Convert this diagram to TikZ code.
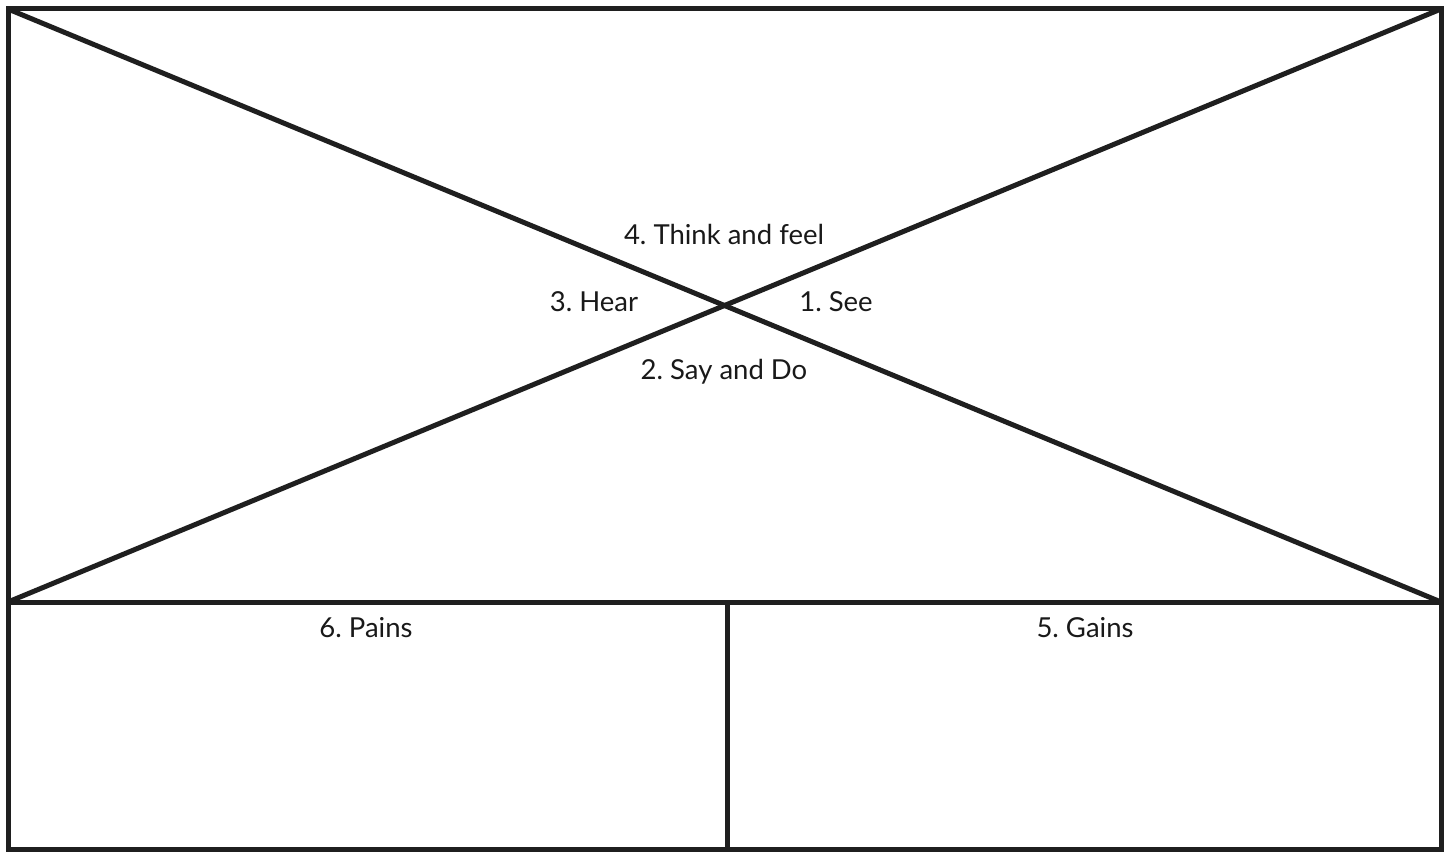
\documentclass[tikz,border=0pt]{standalone}
\usepackage{fontspec}
\setmainfont{Lato}
\usepackage{tikz}
\usetikzlibrary{positioning}
\frenchspacing

\begin{document}
\begin{tikzpicture}[
    x=1pt,y=-1pt,
    frame/.style={line width=5pt,draw=black!88},
    lbl/.style={font=\fontsize{27.5}{32}\selectfont,text=black!90,inner sep=0pt}
]
\useasboundingbox (0,0) rectangle (1450,851);
% corners of the map
\coordinate (tl) at (8,9);
\coordinate (tr) at (1441,9);
\coordinate (ml) at (8,602);
\coordinate (mr) at (1441,602);
\coordinate (bl) at (8,849);
\coordinate (br) at (1441,849);
\coordinate (mt) at (727,602);
\coordinate (mb) at (727,849);
\draw[frame] (tl) rectangle (br);
\draw[frame] (ml) -- (mr);
\draw[frame] (mt) -- (mb);
\draw[frame] (tl) -- (mr);
\draw[frame] (ml) -- (tr);
% quadrant labels
\node[lbl] (think) at (724,234) {4. Think and feel};
\node[lbl] (hear) at (594,302) {3. Hear};
\node[lbl] (see) at (836,302) {1. See};
\node[lbl] (say) at (724,372) {2. Say and Do};
\node[lbl] (pains) at (366,628) {6. Pains};
\node[lbl] (gains) at (1085,628) {5. Gains};
\end{tikzpicture}
\end{document}
